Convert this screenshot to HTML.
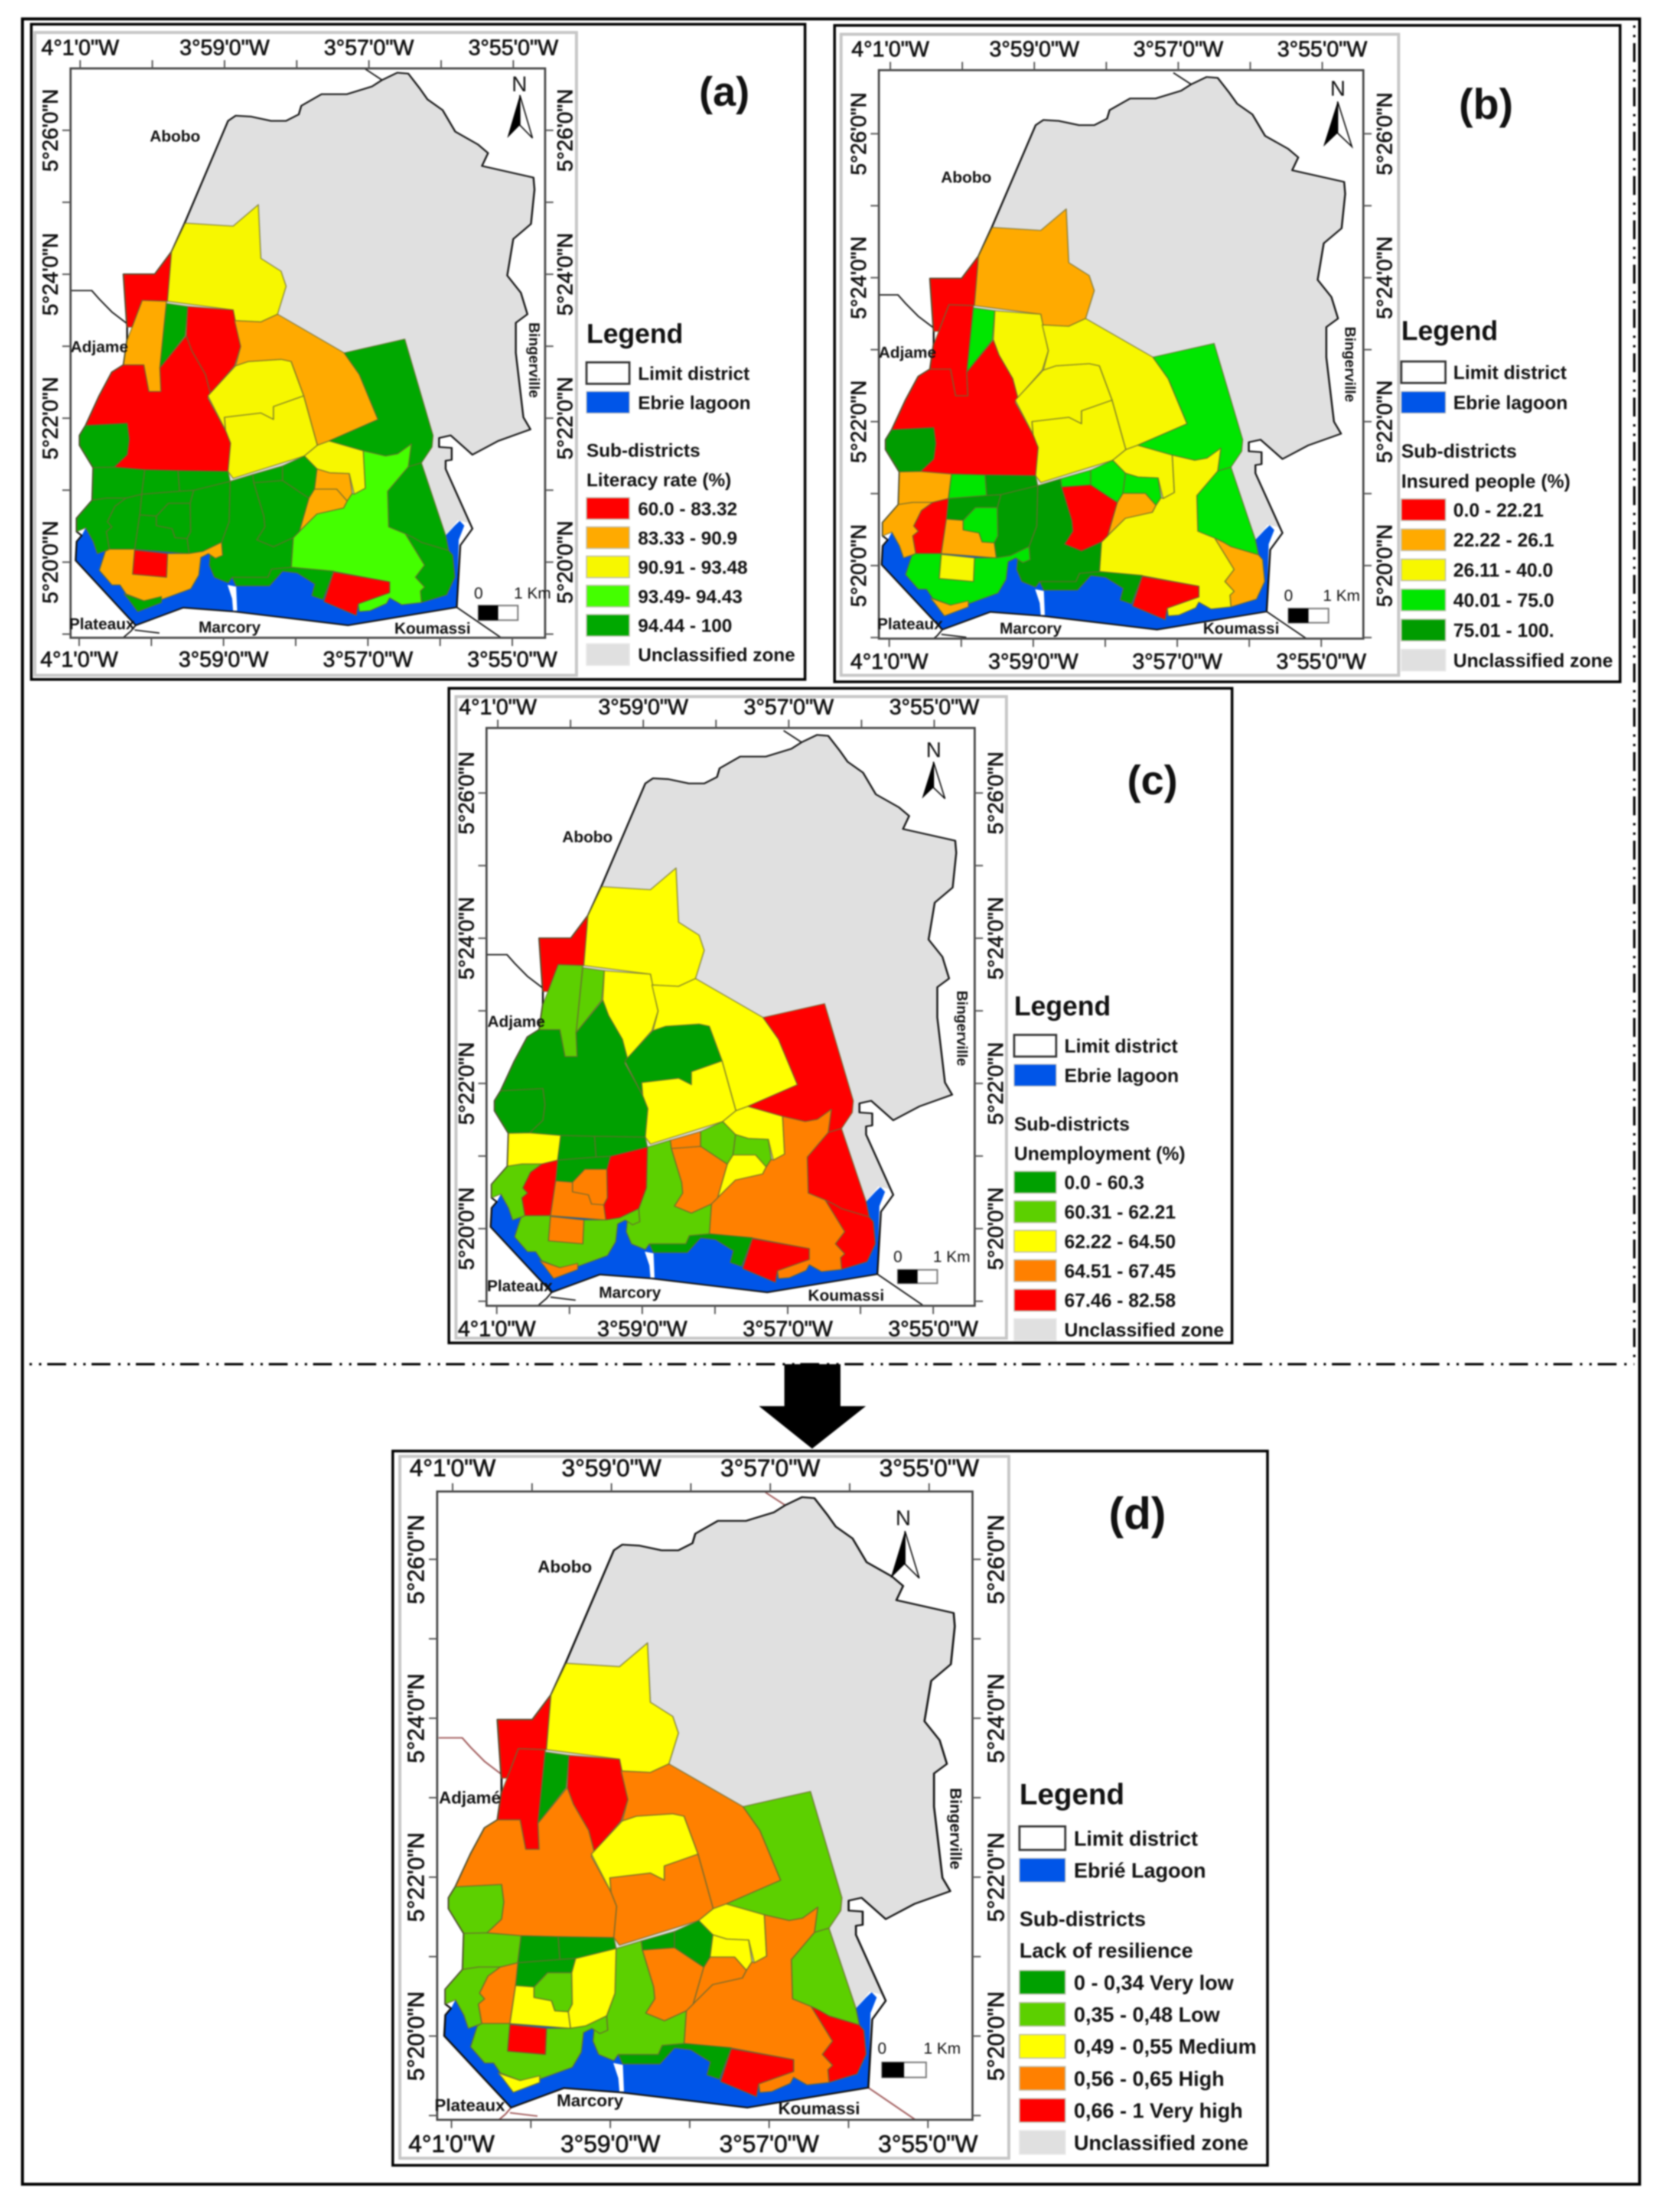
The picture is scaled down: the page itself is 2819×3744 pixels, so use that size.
<!DOCTYPE html>
<html lang="en">
<head>
<meta charset="utf-8">
<title>Abidjan sub-district resilience maps</title>
<style>
html,body{margin:0;padding:0;background:#fff;width:2819px;height:3744px;overflow:hidden}
svg{display:block;filter:blur(1.3px)}
text{font-family:"Liberation Sans","Noto Sans CJK SC",sans-serif;fill:#111}
</style>
</head>
<body>
<svg id="figure" xmlns="http://www.w3.org/2000/svg" width="2819" height="3744" viewBox="0 0 2819 3744">
  <rect x="0" y="0" width="2819" height="3744" fill="#fff"/>
  <rect x="38" y="32" width="2738" height="3665" fill="none" stroke="#000" stroke-width="5"/>
  <line x1="45" y1="2309" x2="2767" y2="2309" stroke="#000" stroke-width="4" stroke-dasharray="32 13 4 12 4 10" stroke-dashoffset="40"/>
  <line x1="2767" y1="33" x2="2767" y2="2309" stroke="#000" stroke-width="4" stroke-dasharray="32 13 4 12 4 10" stroke-dashoffset="35"/>
  <polygon points="1328,2309 1423,2309 1423,2380 1466,2380 1375,2452 1285,2380 1328,2380" fill="#000"/>
</svg>
<script>
// ---- Data: class index of each sub-district, per map (index = legend row) ----
const literacyClasses = [0,2,1,4,0,0,4,2,2,1,4,4,4,2,1,1,3,0,4,4,4,4,4,4,4,4,4,4,4,4,4,4,1,0,4];
const insuredClasses  = [0,1,0,3,2,0,4,2,2,2,3,3,1,2,3,1,2,0,4,4,0,3,3,1,3,4,4,1,0,1,3,4,3,2,1];
const unemploymentClasses = [4,2,1,1,2,0,0,0,2,2,4,4,4,2,1,2,3,4,0,1,3,3,1,2,0,0,0,1,4,3,3,4,1,3,3];
const resilienceClasses = [4,2,4,0,4,3,1,2,3,3,1,1,4,2,2,3,3,4,0,1,3,0,0,1,0,0,0,1,3,2,1,2,1,4,2];

// ---- Legend text and colours ----
const literacyLabels = ["60.0 - 83.32","83.33 - 90.9","90.91 - 93.48","93.49- 94.43","94.44 - 100"];
const insuredLabels = ["0.0 - 22.21","22.22 - 26.1","26.11 - 40.0","40.01 - 75.0","75.01 - 100."];
const unemploymentLabels = ["0.0 - 60.3","60.31 - 62.21","62.22 - 64.50","64.51 - 67.45","67.46 - 82.58"];
const resilienceLabels = ["0 - 0,34 Very low","0,35 - 0,48 Low","0,49 - 0,55 Medium","0,56 - 0,65 High","0,66 - 1 Very high"];
const literacyColors = ["#ff0000","#ffaa00","#f7f700","#44ff00","#00a800"];
const insuredColors = ["#ff0000","#ffaa00","#f7f700","#00e600","#009c00"];
const scaleColors = ["#00a000","#5cd000","#ffff00","#ff8000","#ff0000"];

// ---- Tick labels ----
const lonLabels = ["4°1'0\"W","3°59'0\"W","3°57'0\"W","3°55'0\"W"];
const latLabels = ["5°26'0\"N","5°24'0\"N","5°22'0\"N","5°20'0\"N"];

// ---- Map geometry (shared outline of the district, in map units) ----
const subDistrictShapes = [
"198,597 260,597 293,545 285,660 235,658 215,720 205,720",
"320,478 415,485 465,435 470,560 510,590 520,625 503,690 470,708 418,705 415,680 285,660 293,545",
"235,658 283,660 270,815 272,870 248,870 238,808 198,808 205,750 215,720",
"283,665 325,672 320,740 270,815",
"325,672 415,680 430,765 418,810 370,875 360,830 333,775 322,740",
"322,740 333,775 360,830 370,875 365,885 400,960 410,990 405,1056 306,1054 240,1052 179,1046 205,1017 209,981 205,944 123,949 150,880 175,825 198,808 238,808 248,870 272,870 270,815",
"123,949 205,944 209,981 205,1017 179,1046 138,1047 111,995 111,972",
"365,880 420,810 445,800 510,795 530,800 555,880 495,905 495,935 470,920 398,930 400,960",
"398,930 470,920 495,935 495,905 555,880 582,995 556,1020 415,1072 405,1056 410,990 400,960",
"418,705 470,708 503,690 635,780 665,830 702,935 605,985 582,995 555,880 530,800 510,795 445,800 420,810 430,765",
"635,780 755,748 811,972 809,999 788,1036 762,1045 768,992 741,1015 717,1020 673,1008 605,985 702,935 665,830",
"788,1036 836,1205 842,1240 788,1221 772,1210 756,1201 723,1185 721,1102 762,1045",
"756,1201 772,1210 788,1221 842,1240 850,1251 854,1302 838,1343 788,1361 786,1334 794,1325 776,1302 794,1274",
"556,1020 582,995 605,985 673,1008 677,1095 655,1109 645,1061 606,1059 581,1050",
"581,1050 606,1059 645,1061 651,1107 641,1125 620,1097 576,1097",
"576,1097 620,1097 641,1125 634,1141 581,1155 546,1196 565,1118",
"768,992 762,1045 721,1102 723,1185 756,1201 794,1274 776,1302 794,1325 786,1334 788,1361 749,1366 725,1350 719,1363 686,1380 665,1382 663,1364 725,1338 725,1313 612,1288 530,1279 534,1210 546,1196 581,1155 634,1141 641,1125 651,1107 655,1109 677,1095 673,1008 717,1020 741,1015",
"614,1290 725,1313 725,1338 663,1364 659,1391 595,1359",
"530,1279 614,1288 593,1354 571,1345 577,1318 542,1292 513,1288 487,1322 421,1322 413,1302 484,1302 491,1283",
"409,1079 454,1063 456,1082 476,1160 478,1185 462,1215 495,1231 534,1210 530,1279 491,1283 484,1302 413,1302 405,1315 378,1302 368,1274 370,1249 380,1258 394,1251 392,1221 407,1173",
"456,1082 513,1077 565,1118 546,1196 534,1210 495,1231 462,1215 478,1185 476,1160",
"454,1063 513,1043 513,1077 456,1082",
"513,1043 556,1020 581,1050 576,1097 565,1118 513,1077",
"138,1047 179,1046 240,1052 234,1109 203,1118 164,1118 136,1123",
"240,1052 306,1054 309,1102 234,1109",
"306,1054 405,1056 409,1079 337,1100 309,1102",
"234,1109 309,1102 337,1100 330,1130 287,1130 263,1160 230,1157",
"136,1123 164,1118 203,1118 181,1137 166,1173 175,1185 164,1196 170,1237 146,1247 138,1219 123,1187 105,1196 105,1165",
"203,1118 234,1109 230,1157 220,1237 170,1237 164,1196 175,1185 166,1173 181,1137",
"230,1157 263,1160 263,1182 294,1189 300,1210 324,1212 328,1247 220,1237",
"263,1160 287,1130 330,1130 331,1196 324,1212 300,1210 294,1189 263,1182",
"337,1100 409,1079 407,1173 392,1221 355,1242 328,1247 324,1212 331,1196 330,1130",
"170,1237 220,1237 216,1295 283,1302 285,1247 328,1247 355,1242 392,1221 394,1251 380,1258 366,1247 351,1256 347,1297 331,1329 273,1354 238,1357 203,1341 191,1320 175,1320 150,1286 162,1242",
"220,1239 285,1247 283,1302 216,1295",
"199,1341 238,1357 273,1347 273,1361 226,1382 207,1352"
];
const zoneShape = "320,475 405,240 420,228 450,230 490,240 520,240 545,225 550,205 590,178 640,178 690,160 710,145 740,128 762,130 785,165 800,190 830,215 855,265 900,295 920,315 908,345 1010,372 1012,400 1005,480 970,515 958,600 985,640 998,690 975,710 975,780 990,930 1004,958 940,985 889,1017 846,972 823,978 823,999 848,1001 848,1029 836,1031 836,1050 889,1189 880,1175 860,1170 836,1205 640,1300 400,1280 170,1240 160,1120 160,1000 180,880 215,800 215,720 205,700 198,597 260,597 293,545";
const lagoonShape = "103,1263 105,1219 115,1205 123,1187 138,1219 146,1247 170,1237 360,1225 392,1221 530,1225 842,1240 836,1205 854,1182 864,1171 873,1182 862,1215 858,1372 643,1414 417,1382 316,1373 222,1414";
const isletShape = "404,1320 421,1324 423,1380 415,1380 413,1352";
const limitLine = "205,720 198,597 260,597 293,545 320,475 405,240 420,228 450,230 490,240 520,240 545,225 550,205 590,178 640,178 690,160 710,145 740,128 762,130 785,165 800,190 830,215 855,265 900,295 920,315 908,345 1010,372 1012,400 1005,480 970,515 958,600 985,640 998,690 975,710 975,780 990,930 1004,958 940,985 889,1017 846,972 823,978 823,999 848,1001 848,1029 836,1031 836,1050 889,1189 865,1228 858,1372 643,1414 417,1382 316,1373 222,1414 103,1263 105,1219 115,1205 105,1196 105,1165 136,1123 138,1047 111,995 111,972 123,949 150,880 175,825 198,808 205,750 205,720";
const neighbourLines = ["93,635 135,635 150,655 175,685 205,712","675,118 710,145","858,1372 946,1443","197,1443 212,1428 222,1414","220,1425 269,1432"];

// ---- Layout of each map panel on the page ----
const panels = [
 {id:"a",ox:40,kx:.8547,oy:30,ky:.7273,sx:1,tx:0,sy:1,ty:0,box:[53,41,1310,1109],neat:[59,55,917,1088],frame:[93,118,1033,1443],xt:[112,143],xb:[110,143],yt:[262,167.5],lonY:[68,1492],latX:[52,1072],tick:37,latTick:36,title:"(a)",titleX:1388,titleY:205,titleSize:70,theme:"Literacy rate (%)",lagoon:"Ebrie lagoon",classes:literacyClasses,rows:literacyLabels,colors:literacyColors,
  lx:1115,lw:85,ltx:1217,legendY:757,limY:827,ebY:895,subY:1006,themeY:1075,rowY:1142,rowStep:68,lsize:31.5,legSize:46,sw:50,
  abobo:[300,275],adjame:[150,765],plateau:[155,1410],marcory:[408,1417],koumassi:[810,1420],bing:[1013,797],adj:"Adjame",pla:"Plateaux",north:[982,152,958,1008,180,280],scale:[901,1338,1008,901,979,1368,1402],lineColor:"#111",nameSize:27},
 {id:"b",ox:1400,kx:.8801,oy:30,ky:.7273,sx:.981,tx:4.3,sy:1,ty:10,box:[1413,43,1330,1111],neat:[1424,58,944,1085],frame:[100,122,1032,1445],xt:[122,138.5],xb:[120,138.5],yt:[270,167.5],lonY:[72,1497],latX:[60,1072],tick:37,latTick:36,title:"(b)",titleX:1268,titleY:235,titleSize:72,theme:"Insured people (%)",lagoon:"Ebrie lagoon",classes:insuredClasses,rows:insuredLabels,colors:insuredColors,
  lx:1105,lw:85,ltx:1205,legendY:750,limY:825,ebY:895,subY:1008,themeY:1078,rowY:1145,rowStep:70,lsize:32,legSize:46,sw:50,
  abobo:[268,370],adjame:[155,778],plateau:[160,1410],marcory:[392,1420],koumassi:[797,1420],bing:[1008,807],adj:"Adjame",pla:"Plateaux",north:[983,162,955,1010,195,300],scale:[888,1343,990,888,965,1375,1408],lineColor:"#111",nameSize:27},
 {id:"c",ox:750,kx:.8673,oy:1150,ky:.7337,sx:1,tx:-10,sy:1,ty:0,box:[760,1165,1326,1108],neat:[772,1179,932,1086],frame:[85,112,1038,1445],xt:[107,142],xb:[105,142],yt:[262,167.5],lonY:[62,1497],latX:[45,1078],tick:37,latTick:36,title:"(c)",titleX:1385,titleY:265,titleSize:70,theme:"Unemployment (%)",lagoon:"Ebrie lagoon",classes:unemploymentClasses,rows:unemploymentLabels,colors:scaleColors,
  lx:1115,lw:82,ltx:1213,legendY:775,limY:845,ebY:913,subY:1025,themeY:1093,rowY:1160,rowStep:68,lsize:32,legSize:46,sw:50,
  abobo:[282,362],adjame:[143,788],plateau:[150,1398],marcory:[365,1413],koumassi:[787,1420],bing:[1015,805],adj:"Adjame",pla:"Plateaux",north:[958,160,935,980,190,275],scale:[888,1330,993,888,965,1362,1393],lineColor:"#111",nameSize:27},
 {id:"d",ox:650,kx:.9694,oy:2440,ky:.7972,sx:.981,tx:4.3,sy:1.0078,ty:-11,box:[665,2456,1481,1209],neat:[677,2465,1031,1188],frame:[93,106,1028,1440],xt:[120,138.7],xb:[118,138.7],yt:[250,168.7],lonY:[55,1490],latX:[55,1068],tick:41,latTick:39,title:"(d)",titleX:1316,titleY:185,titleSize:76,theme:"Lack of resilience",lagoon:"Ebrié Lagoon",classes:resilienceClasses,rows:resilienceLabels,colors:scaleColors,
  lx:1110,lw:80,ltx:1205,legendY:770,limY:842,ebY:910,subY:1013,themeY:1080,rowY:1148,rowStep:68,lsize:35,legSize:50,sw:50,
  abobo:[316,265],adjame:[150,755],plateau:[150,1408],marcory:[360,1398],koumassi:[760,1415],bing:[1000,822],adj:"Adjamé",pla:"Plateaux",north:[907,160,885,935,190,290],scale:[870,1287,975,870,947,1318,1350],lineColor:"#a05a5a",nameSize:29}
];

const NS = "http://www.w3.org/2000/svg";
const svg = document.getElementById("figure");

function shape(parent, tag, attrs) {
  const el = document.createElementNS(NS, tag);
  for (const k in attrs) el.setAttribute(k, attrs[k]);
  parent.appendChild(el);
  return el;
}
function label(parent, x, y, str, size, weight, rotate) {
  const el = document.createElementNS(NS, "text");
  el.setAttribute("x", x);
  el.setAttribute("y", y);
  el.setAttribute("font-size", size);
  el.setAttribute("font-weight", weight || "normal");
  if (rotate) el.setAttribute("transform", "rotate(" + rotate + " " + x + " " + y + ")");
  el.textContent = str;
  parent.appendChild(el);
  return el;
}

panels.forEach(function (p) {
  const X = function (x) { return p.ox + x * p.kx; };
  const Y = function (y) { return p.oy + y * p.ky; };

  const g = document.createElementNS(NS, "g");
  
  
  svg.appendChild(g);

  // panel box and neatline
  const box = shape(g, "rect", {x:p.box[0], y:p.box[1], width:p.box[2], height:p.box[3], fill:"#fff", stroke:"#000", "stroke-width":4.5});
  
  
  const neat = shape(g, "rect", {x:p.neat[0], y:p.neat[1], width:p.neat[2], height:p.neat[3], fill:"#fff", stroke:"#c6c6c6", "stroke-width":5});
  
  

  const fx0 = X(p.frame[0]), fx1 = X(p.frame[2]), fy0 = Y(p.frame[1]), fy1 = Y(p.frame[3]);

  // map group with clip to frame
  const clip = document.createElementNS(NS, "clipPath");
  clip.setAttribute("id", "clip-" + p.id);
  svg.appendChild(clip);
  shape(clip, "rect", {x:fx0, y:fy0, width:fx1 - fx0, height:fy1 - fy0});

  const outer = shape(g, "g", {"clip-path":"url(#clip-" + p.id + ")"});
  
  
  const m = shape(outer, "g", {transform:"matrix(" + (p.kx * p.sx) + " 0 0 " + (p.ky * p.sy) + " " + X(p.tx) + " " + Y(p.ty) + ")"});

  neighbourLines.forEach(function (pts) {
    const nl = shape(m, "polyline", {points:pts, fill:"none", stroke:p.lineColor, "stroke-width":3});
    
    
  });

  const zone = shape(m, "polygon", {points:zoneShape, fill:"#e0e0e0"});
  
  

  const lag = shape(m, "polygon", {points:lagoonShape, fill:"#0055e8"});
  
  

  const limit = shape(m, "polyline", {points:limitLine, fill:"none", stroke:"#111", "stroke-width":3.6, "stroke-linejoin":"round"});
  
  

  subDistrictShapes.forEach(function (pts, i) {
    const poly = shape(m, "polygon", {points:pts, fill:p.colors[p.classes[i]], stroke:"#6a6a30", "stroke-opacity":.7, "stroke-width":2.4, "stroke-linejoin":"round"});
    
    
  });

  const islet = shape(m, "polygon", {points:isletShape, fill:"#fff"});
  
  

  // frame
  const fr = shape(g, "rect", {x:fx0, y:fy0, width:fx1 - fx0, height:fy1 - fy0, fill:"none", stroke:"#444", "stroke-width":3.5});
  
  

  // ticks: longitude every half label step, latitude likewise
  const tickLen = 14;
  for (let i = 0; i < 7; i++) {
    const xv = X(p.xt[0] + i * p.xt[1]);
    const xb = X(p.xb[0] + i * p.xb[1]);
    const t1 = shape(g, "line", {x1:xv, y1:fy0 - tickLen, x2:xv, y2:fy0, stroke:"#555", "stroke-width":2.5});
    
    
    const t2 = shape(g, "line", {x1:xb, y1:fy1, x2:xb, y2:fy1 + tickLen, stroke:"#555", "stroke-width":2.5});
    
    
  }
  for (let i = 0; i < 8; i++) {
    const yv = Y(p.yt[0] + i * p.yt[1]);
    if (yv > fy1 + 2) continue;
    const t3 = shape(g, "line", {x1:fx0 - tickLen, y1:yv, x2:fx0, y2:yv, stroke:"#555", "stroke-width":2.5});
    
    
    const t4 = shape(g, "line", {x1:fx1, y1:yv, x2:fx1 + tickLen, y2:yv, stroke:"#555", "stroke-width":2.5});
    
    
  }

  // tick labels
  lonLabels.forEach(function (s, i) {
    const a = label(g, X(p.xt[0] + i * 2 * p.xt[1]), Y(p.lonY[0]) + p.tick * .36, s, p.tick);
    a.setAttribute("text-anchor", "middle");
    a.setAttribute("stroke", "#111");
    a.setAttribute("stroke-width", ".9");
    
    
    const b = label(g, X(p.xb[0] + i * 2 * p.xb[1]), Y(p.lonY[1]) + p.tick * .36, s, p.tick);
    b.setAttribute("text-anchor", "middle");
    b.setAttribute("stroke", "#111");
    b.setAttribute("stroke-width", ".9");
    
    
  });
  latLabels.forEach(function (s, i) {
    const yv = Y(p.yt[0] + i * 2 * p.yt[1]);
    const a = label(g, X(p.latX[0]) + p.latTick * .36, yv, s, p.latTick, "normal", -90);
    a.setAttribute("text-anchor", "middle");
    a.setAttribute("stroke", "#111");
    a.setAttribute("stroke-width", ".9");
    
    
    const b = label(g, X(p.latX[1]) + p.latTick * .36, yv, s, p.latTick, "normal", -90);
    b.setAttribute("text-anchor", "middle");
    b.setAttribute("stroke", "#111");
    b.setAttribute("stroke-width", ".9");
    
    
  });

  // place names
  const names = [["Abobo", p.abobo], [p.adj, p.adjame], [p.pla, p.plateau], ["Marcory", p.marcory], ["Koumassi", p.koumassi]];
  names.forEach(function (n) {
    const t = label(g, X(n[1][0]), Y(n[1][1]) + p.nameSize * .36, n[0], p.nameSize, "bold");
    t.setAttribute("text-anchor", "middle");
    t.setAttribute("fill", "#222");
    
    
  });
  const bing = label(g, X(p.bing[0]) - p.nameSize * .36, Y(p.bing[1]), "Bingerville", p.nameSize - 2, "bold", 90);
  bing.setAttribute("text-anchor", "middle");
  
  

  // north arrow
  const n = p.north;
  const nl = label(g, X(n[0]), Y(n[1]) + 14, "N", 36);
  nl.setAttribute("text-anchor", "middle");
  
  
  const cx = X((n[2] + n[3]) / 2), ax0 = X(n[2]), ax1 = X(n[3]), ay0 = Y(n[4]), ay1 = Y(n[5]), an = ay1 - (ay1 - ay0) * .3;
  const na = shape(g, "polygon", {points:cx + "," + ay0 + " " + ax0 + "," + ay1 + " " + cx + "," + an, fill:"#000"});
  
  
  const nb = shape(g, "polygon", {points:cx + "," + ay0 + " " + ax1 + "," + ay1 + " " + cx + "," + an, fill:"#fff", stroke:"#000", "stroke-width":2});
  
  

  // scale bar
  const s = p.scale;
  const z = label(g, X(s[0]), Y(s[1]) + 10, "0", 27);
  z.setAttribute("text-anchor", "middle");
  z.setAttribute("fill", "#333");
  
  
  const km = label(g, X(s[2]), Y(s[1]) + 10, "1 Km", 27);
  km.setAttribute("text-anchor", "middle");
  km.setAttribute("fill", "#333");
  
  
  const sb = shape(g, "rect", {x:X(s[3]), y:Y(s[5]), width:X(s[4]) - X(s[3]), height:Y(s[6]) - Y(s[5]), fill:"#fff", stroke:"#777", "stroke-width":2.5});
  
  
  const sh = shape(g, "rect", {x:X(s[3]), y:Y(s[5]), width:(X(s[4]) - X(s[3])) / 2, height:Y(s[6]) - Y(s[5]), fill:"#000"});
  
  

  // panel title
  const ti = label(g, X(p.titleX), Y(p.titleY), p.title, p.titleSize, "bold");
  ti.setAttribute("text-anchor", "middle");
  ti.setAttribute("fill", "#000");
  
  

  // legend
  const lx = X(p.lx), lw = p.lw * p.kx, sh2 = p.sw * p.ky, tx = X(p.ltx);
  const lh = label(g, lx, Y(p.legendY), "Legend", p.legSize, "bold");
  
  

  function swatch(cy, fill, stroke, sw, name) {
    const r = shape(g, "rect", {x:lx, y:Y(cy) - sh2 / 2, width:lw, height:sh2, fill:fill, stroke:stroke, "stroke-width":sw});
    
    
  }
  function ltext(cy, str, name) {
    const t = label(g, tx, Y(cy) + p.lsize * .36, str, p.lsize, "bold");
    t.setAttribute("fill", "#222");
    
    
  }
  swatch(p.limY, "#fff", "#333", 3.5, "legend-swatch-limit");
  ltext(p.limY, "Limit district", "legend-label-limit");
  swatch(p.ebY, "#0055e8", "#bbb", 1.5, "legend-swatch-lagoon");
  ltext(p.ebY, p.lagoon, "legend-label-lagoon");

  const sd = label(g, lx, Y(p.subY) + p.lsize * .36, "Sub-districts", p.lsize, "bold");
  sd.setAttribute("fill", "#222");
  
  
  const th = label(g, lx, Y(p.themeY) + p.lsize * .36, p.theme, p.lsize, "bold");
  th.setAttribute("fill", "#222");
  
  

  p.rows.forEach(function (txt, i) {
    const cy = p.rowY + i * p.rowStep;
    swatch(cy, p.colors[i], "#c0c0b0", 2, "legend-swatch");
    ltext(cy, txt, "legend-label");
  });
  const cy = p.rowY + 5 * p.rowStep;
  swatch(cy, "#e0e0e0", "#e8e8e8", 2, "legend-swatch-unclassified");
  ltext(cy, "Unclassified zone", "legend-label-unclassified");
});
</script>
</body>
</html>
